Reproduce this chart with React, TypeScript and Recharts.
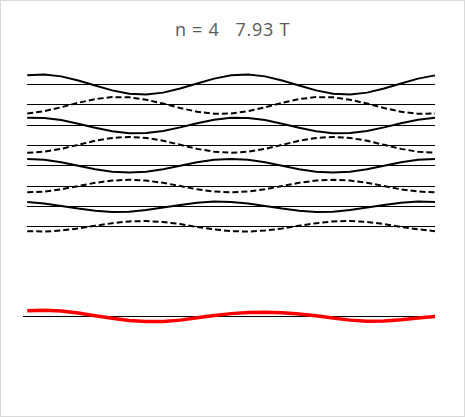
import { LineChart, Line, XAxis, YAxis, ReferenceLine } from "recharts";

// sample index along the chart (25 points)
const steps = [0, 1, 2, 3, 4, 5, 6, 7, 8, 9, 10, 11, 12, 13, 14, 15, 16, 17, 18, 19, 20, 21, 22, 23, 24];

// baseline of each trace, top to bottom
const baselines = [11.4, 10.4, 9.4, 8.4, 7.4, 6.4, 5.4, 4.4];

// deviation of each trace from its baseline
const solid1 = [0.45, 0.49, 0.4, 0.2, -0.05, -0.29, -0.45, -0.49, -0.4, -0.2, 0.05, 0.29, 0.45, 0.49, 0.4, 0.2, -0.05, -0.29, -0.45, -0.49, -0.4, -0.2, 0.05, 0.29, 0.45];
const dashed1 = [-0.43, -0.31, -0.12, 0.1, 0.28, 0.38, 0.37, 0.25, 0.06, -0.16, -0.34, -0.44, -0.43, -0.31, -0.12, 0.1, 0.28, 0.38, 0.37, 0.25, 0.06, -0.16, -0.34, -0.44, -0.43];
const solid2 = [0.36, 0.35, 0.25, 0.07, -0.13, -0.3, -0.4, -0.39, -0.29, -0.11, 0.09, 0.26, 0.36, 0.35, 0.25, 0.07, -0.13, -0.3, -0.4, -0.39, -0.29, -0.11, 0.09, 0.26, 0.36];
const dashed2 = [-0.36, -0.31, -0.17, 0.03, 0.23, 0.37, 0.42, 0.37, 0.23, 0.03, -0.17, -0.31, -0.36, -0.31, -0.17, 0.03, 0.23, 0.37, 0.42, 0.37, 0.23, 0.03, -0.17, -0.31, -0.36];
const solid3 = [0.33, 0.29, 0.17, 0, -0.17, -0.29, -0.33, -0.29, -0.17, 0, 0.17, 0.29, 0.33, 0.29, 0.17, 0, -0.17, -0.29, -0.33, -0.29, -0.17, 0, 0.17, 0.29, 0.33];
const dashed3 = [-0.31, -0.27, -0.16, 0, 0.16, 0.27, 0.31, 0.27, 0.16, 0, -0.16, -0.27, -0.31, -0.27, -0.16, 0, 0.16, 0.27, 0.31, 0.27, 0.16, 0, -0.16, -0.27, -0.31];
const solid4 = [0.22, 0.14, 0.02, -0.11, -0.22, -0.28, -0.26, -0.18, -0.06, 0.07, 0.18, 0.24, 0.22, 0.14, 0.02, -0.11, -0.22, -0.28, -0.26, -0.18, -0.06, 0.07, 0.18, 0.24, 0.22];
const dashed4 = [-0.22, -0.24, -0.19, -0.09, 0.05, 0.17, 0.26, 0.28, 0.23, 0.13, -0.01, -0.13, -0.22, -0.24, -0.19, -0.09, 0.05, 0.17, 0.26, 0.28, 0.23, 0.13, -0.01, -0.13, -0.22];
const total = [0.26, 0.29, 0.25, 0.15, 0.02, -0.11, -0.22, -0.27, -0.27, -0.2, -0.08, 0.03, 0.12, 0.17, 0.19, 0.16, 0.1, 0.02, -0.1, -0.2, -0.25, -0.24, -0.18, -0.09, -0.02];

const traces = [solid1, dashed1, solid2, dashed2, solid3, dashed3, solid4, dashed4];

const rows = steps.map((x, i) => {
  const row: Record<string, number> = { x, total: total[i] };
  traces.forEach((t, k) => {
    row["b" + k] = baselines[k];
    row["t" + k] = baselines[k] + t[i];
  });
  return row;
});

export default function App() {
  return (
    <div
      style={{
        position: "absolute",
        left: 0,
        top: 0,
        width: 465,
        height: 417,
        boxSizing: "border-box",
        border: "1px solid #d9d9d9",
        background: "#fff",
      }}
    >
      <div
        style={{
          position: "absolute",
          left: -1,
          top: 19,
          width: 465,
          textAlign: "center",
          fontFamily: "'Open Sans', sans-serif",
          fontSize: 18,
          lineHeight: "18px",
          color: "#595959",
          whiteSpace: "pre",
          letterSpacing: 0.7,
        }}
      >
        {"n = 4   7.93 T"}
      </div>
      <div style={{ position: "absolute", left: -1, top: -1 }}>
        <LineChart
          width={465}
          height={417}
          data={rows}
          margin={{ top: 52, right: 30, bottom: 40, left: 23 }}
        >
          <XAxis type="number" dataKey="x" domain={[-0.25, 24]} hide />
          <YAxis type="number" domain={[-3, 13]} hide />
          <ReferenceLine y={0} stroke="#000" strokeWidth={1} shapeRendering="crispEdges" />
          {traces.map((_, k) => (
            <Line
              key={"b" + k}
              dataKey={"b" + k}
              stroke="#000"
              strokeWidth={1}
              shapeRendering="crispEdges"
              dot={false}
              activeDot={false}
              isAnimationActive={false}
            />
          ))}
          {traces.map((_, k) => (
            <Line
              key={"t" + k}
              dataKey={"t" + k}
              type="linear"
              stroke="#000"
              strokeWidth={2}
              strokeDasharray={k % 2 === 1 ? "6 3" : undefined}
              dot={false}
              activeDot={false}
              isAnimationActive={false}
            />
          ))}
          <Line
            dataKey="total"
            type="linear"
            stroke="#ff0000"
            strokeWidth={3.5}
            dot={false}
            activeDot={false}
            isAnimationActive={false}
          />
        </LineChart>
      </div>
    </div>
  );
}
